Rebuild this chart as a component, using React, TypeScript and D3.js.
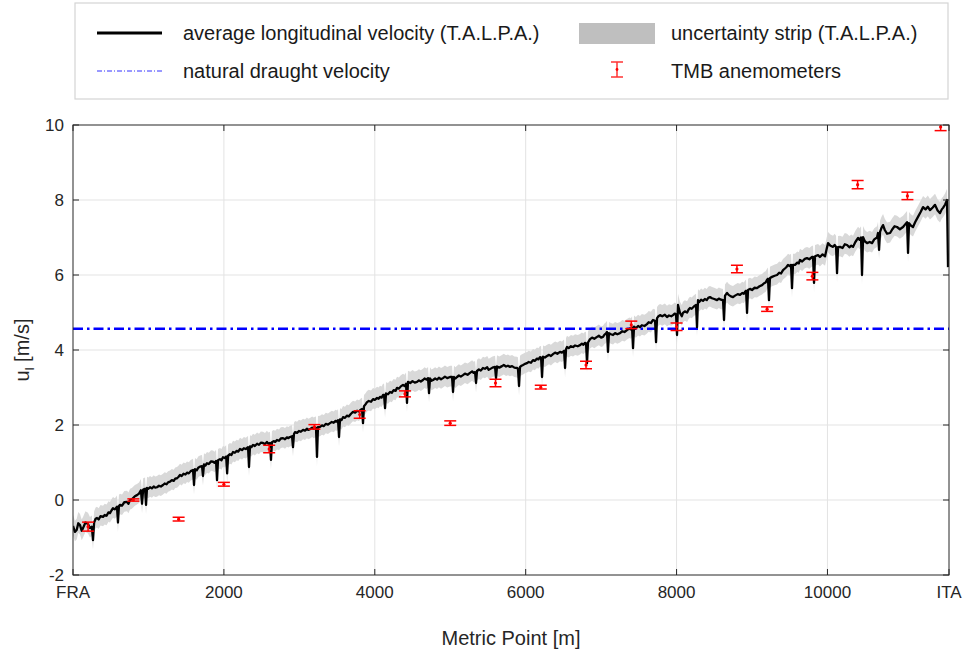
import * as d3 from 'd3';

// average longitudinal velocity (T.A.L.P.A.), [metric point m, u_l m/s]
const talpaVelocity: [number, number][] = [
  [0, -0.69], [25, -0.85], [49, -0.8], [70, -0.62], [93, -0.67], [115, -0.82], [133, -0.75], [165, -0.6],
  [199, -0.64], [225, -0.75], [250, -0.71], [265, -1.07], [280, -0.6], [300, -0.5], [318, -0.48], [340, -0.52],
  [365, -0.43], [398, -0.45], [420, -0.4], [445, -0.42], [470, -0.33], [490, -0.35], [510, -0.28], [530, -0.22],
  [555, -0.25], [583, -0.18], [596, -0.6], [609, -0.16], [623, -0.13], [650, -0.15], [680, -0.06], [716, -0.05],
  [735, -0.1], [756, 0], [780, 0.02], [800, 0.06], [820, 0.1], [848, 0.13], [875, 0.17], [900, 0.26],
  [915, -0.1], [930, 0.28], [955, 0.3], [968, -0.13], [981, 0.32], [1000, 0.3], [1021, 0.34], [1045, 0.31],
  [1070, 0.36], [1090, 0.33], [1113, 0.34], [1140, 0.38], [1165, 0.36], [1193, 0.4], [1215, 0.44], [1240, 0.42],
  [1260, 0.47], [1286, 0.49], [1310, 0.53], [1335, 0.51], [1355, 0.57], [1379, 0.58], [1400, 0.62], [1418, 0.67],
  [1440, 0.64], [1465, 0.7], [1490, 0.68], [1511, 0.73], [1535, 0.71], [1560, 0.77], [1591, 0.8], [1604, 0.4],
  [1617, 0.82], [1640, 0.79], [1660, 0.86], [1683, 0.89], [1710, 0.9], [1723, 0.64], [1736, 0.95], [1755, 0.92],
  [1776, 0.98], [1800, 0.96], [1830, 1.03], [1856, 1.02], [1876, 0.99], [1896, 1.04], [1909, 0.53], [1922, 1.06],
  [1948, 1.09], [1968, 1.06], [1988, 1.14], [2010, 1.12], [2030, 1.16], [2043, 0.71], [2056, 1.18], [2080, 1.22],
  [2100, 1.2], [2121, 1.28], [2145, 1.26], [2170, 1.31], [2190, 1.29], [2214, 1.36], [2240, 1.33], [2265, 1.38],
  [2290, 1.36], [2320, 1.41], [2333, 0.88], [2346, 1.43], [2366, 1.41], [2386, 1.47], [2410, 1.44], [2440, 1.5],
  [2465, 1.47], [2490, 1.53], [2518, 1.52], [2545, 1.49], [2570, 1.55], [2590, 1.5], [2611, 1.52], [2624, 1.07],
  [2637, 1.54], [2660, 1.57], [2680, 1.55], [2704, 1.6], [2730, 1.58], [2755, 1.64], [2784, 1.65], [2810, 1.62],
  [2835, 1.67], [2855, 1.65], [2876, 1.68], [2903, 1.7], [2916, 1.41], [2929, 1.76], [2943, 1.81], [2970, 1.79],
  [2995, 1.84], [3020, 1.82], [3049, 1.87], [3075, 1.85], [3100, 1.9], [3120, 1.87], [3141, 1.89], [3170, 1.93],
  [3190, 1.9], [3208, 1.92], [3221, 1.93], [3234, 1.15], [3247, 1.94], [3274, 1.95], [3300, 1.99], [3325, 1.97],
  [3350, 2.03], [3380, 2.01], [3406, 2.05], [3430, 2.08], [3455, 2.06], [3480, 2.11], [3500, 2.09], [3513, 2.13],
  [3526, 1.68], [3539, 2.15], [3560, 2.13], [3579, 2.21], [3605, 2.19], [3630, 2.25], [3655, 2.23], [3685, 2.3],
  [3711, 2.35], [3740, 2.33], [3765, 2.38], [3790, 2.36], [3815, 2.41], [3831, 2.43], [3844, 2.05], [3857, 2.5],
  [3877, 2.55], [3897, 2.61], [3920, 2.64], [3950, 2.62], [3977, 2.69], [4000, 2.67], [4030, 2.72], [4050, 2.7],
  [4069, 2.75], [4090, 2.73], [4109, 2.8], [4123, 2.8], [4136, 2.45], [4149, 2.84], [4175, 2.82], [4202, 2.88],
  [4225, 2.86], [4250, 2.93], [4275, 2.91], [4295, 2.99], [4320, 2.97], [4345, 3.03], [4374, 3.07], [4395, 3.04],
  [4414, 3.1], [4427, 2.59], [4440, 3.15], [4470, 3.12], [4500, 3.17], [4530, 3.13], [4560, 3.15], [4585, 3.19],
  [4610, 3.16], [4639, 3.2], [4660, 3.24], [4685, 3.21], [4706, 3.25], [4719, 2.85], [4732, 3.24], [4752, 3.18],
  [4772, 3.2], [4800, 3.24], [4825, 3.21], [4850, 3.26], [4878, 3.22], [4904, 3.25], [4930, 3.29], [4960, 3.25],
  [4997, 3.28], [5024, 3.28], [5037, 2.88], [5050, 3.28], [5070, 3.24], [5090, 3.28], [5115, 3.32], [5140, 3.29],
  [5169, 3.33], [5195, 3.37], [5230, 3.34], [5262, 3.39], [5290, 3.43], [5310, 3.39], [5329, 3.41], [5342, 3.12],
  [5355, 3.44], [5380, 3.48], [5405, 3.45], [5434, 3.52], [5460, 3.5], [5490, 3.54], [5510, 3.47], [5527, 3.49],
  [5560, 3.53], [5594, 3.55], [5607, 3.25], [5620, 3.56], [5650, 3.53], [5686, 3.57], [5710, 3.6], [5740, 3.56],
  [5765, 3.58], [5792, 3.55], [5820, 3.57], [5850, 3.53], [5885, 3.52], [5898, 3.5], [5912, 3.04], [5925, 3.55],
  [5945, 3.58], [5965, 3.6], [5990, 3.63], [6018, 3.65], [6040, 3.68], [6070, 3.66], [6097, 3.73], [6120, 3.71],
  [6150, 3.77], [6170, 3.75], [6190, 3.81], [6204, 3.8], [6217, 3.28], [6230, 3.82], [6255, 3.8], [6283, 3.84],
  [6310, 3.87], [6335, 3.84], [6362, 3.89], [6390, 3.93], [6420, 3.9], [6455, 3.95], [6480, 3.93], [6509, 3.98],
  [6522, 3.52], [6535, 4.02], [6548, 4.08], [6570, 4.05], [6600, 4.1], [6628, 4.08], [6655, 4.12], [6690, 4.1],
  [6720, 4.13], [6745, 4.17], [6765, 4.14], [6787, 4.19], [6800, 4.18], [6813, 3.65], [6826, 4.2], [6853, 4.29],
  [6880, 4.33], [6910, 4.3], [6946, 4.35], [6970, 4.38], [7000, 4.33], [7025, 4.35], [7045, 4.41], [7065, 4.44],
  [7078, 4.48], [7091, 3.95], [7104, 4.45], [7130, 4.42], [7158, 4.4], [7185, 4.45], [7215, 4.42], [7250, 4.45],
  [7280, 4.5], [7310, 4.48], [7343, 4.53], [7375, 4.57], [7395, 4.55], [7410, 4.6], [7423, 4.05], [7436, 4.62],
  [7460, 4.58], [7490, 4.64], [7515, 4.61], [7540, 4.66], [7575, 4.64], [7608, 4.69], [7630, 4.74], [7660, 4.72],
  [7688, 4.8], [7715, 4.78], [7728, 4.21], [7741, 4.85], [7760, 4.9], [7781, 4.93], [7810, 4.9], [7845, 4.94],
  [7873, 4.88], [7900, 4.92], [7930, 4.9], [7953, 4.93], [7975, 4.97], [7993, 4.95], [8006, 4.4], [8019, 5.2],
  [8045, 4.99], [8070, 4.9], [8085, 4.99], [8110, 5.03], [8140, 5.0], [8160, 5.08], [8178, 5.12], [8200, 5.1],
  [8230, 5.16], [8258, 5.2], [8271, 4.61], [8284, 5.33], [8300, 5.28], [8325, 5.34], [8350, 5.31], [8375, 5.36],
  [8400, 5.33], [8420, 5.39], [8443, 5.41], [8470, 5.38], [8500, 5.36], [8536, 5.33], [8560, 5.37], [8590, 5.34],
  [8616, 5.33], [8629, 4.8], [8642, 5.45], [8669, 5.52], [8690, 5.47], [8720, 5.43], [8748, 5.41], [8775, 5.45],
  [8810, 5.49], [8841, 5.47], [8870, 5.52], [8890, 5.5], [8907, 5.55], [8921, 5.58], [8934, 4.99], [8947, 5.6],
  [8973, 5.63], [9000, 5.6], [9035, 5.66], [9066, 5.65], [9100, 5.7], [9133, 5.73], [9160, 5.78], [9180, 5.8],
  [9199, 5.87], [9212, 5.9], [9225, 5.33], [9238, 5.92], [9265, 5.95], [9300, 5.98], [9332, 6.0], [9360, 6.06],
  [9385, 6.04], [9411, 6.13], [9440, 6.18], [9460, 6.22], [9477, 6.27], [9500, 6.24], [9517, 6.27], [9530, 5.65],
  [9543, 6.27], [9570, 6.27], [9600, 6.33], [9620, 6.31], [9636, 6.4], [9665, 6.36], [9700, 6.43], [9729, 6.45],
  [9760, 6.42], [9796, 6.48], [9809, 6.48], [9822, 5.79], [9835, 6.5], [9875, 6.53], [9900, 6.48], [9935, 6.55],
  [9968, 6.5], [9990, 6.7], [10008, 6.85], [10040, 6.78], [10074, 6.75], [10095, 6.8], [10114, 6.75], [10127, 6.05],
  [10140, 6.74], [10167, 6.75], [10200, 6.72], [10230, 6.82], [10260, 6.8], [10290, 6.74], [10315, 6.78], [10339, 6.75],
  [10370, 6.88], [10406, 6.99], [10425, 6.94], [10445, 7.0], [10458, 6.0], [10472, 7.01], [10495, 6.9], [10525, 6.85],
  [10560, 6.88], [10591, 6.85], [10620, 6.95], [10657, 7.0], [10670, 7.12], [10684, 6.67], [10697, 7.15], [10715, 7.25],
  [10737, 7.33], [10760, 7.2], [10790, 7.1], [10830, 7.12], [10860, 7.22], [10890, 7.3], [10922, 7.28], [10960, 7.22],
  [11002, 7.28], [11030, 7.35], [11055, 7.41], [11068, 6.59], [11081, 7.38], [11105, 7.32], [11134, 7.28], [11165, 7.42],
  [11200, 7.55], [11235, 7.68], [11267, 7.81], [11300, 7.75], [11330, 7.82], [11359, 7.73], [11395, 7.8], [11426, 7.87],
  [11460, 7.72], [11492, 7.65], [11515, 7.75], [11532, 7.79], [11560, 7.88], [11585, 8.0], [11598, 6.21],
];

// uncertainty of T.A.L.P.A. estimate (m/s), above / below
const stripUp = 0.3;
const stripDown = 0.25;

const naturalDraught = 4.57;

// TMB anemometers
const anemoPos = [200, 800, 1400, 2000, 2600, 3200, 3800, 4400, 5000, 5600, 6200, 6800, 7400, 8000, 8800, 9200, 9800, 10400, 11060, 11500];
const anemoVal = [-0.71, 0.0, -0.51, 0.42, 1.36, 1.95, 2.28, 2.83, 2.05, 3.12, 3.01, 3.6, 4.67, 4.62, 6.16, 5.09, 5.97, 8.41, 8.11, 9.95];
const anemoErr = [0.12, 0.03, 0.05, 0.05, 0.1, 0.06, 0.1, 0.08, 0.06, 0.1, 0.05, 0.1, 0.1, 0.1, 0.1, 0.06, 0.1, 0.11, 0.1, 0.1];

const tunnelLength = 11611;
const xTicks = [0, 2000, 4000, 6000, 8000, 10000, tunnelLength];
const xTickLabels = ['FRA', '2000', '4000', '6000', '8000', '10000', 'ITA'];
const yTicks = [-2, 0, 2, 4, 6, 8, 10];

const FONT = '"Liberation Sans", Arial, Helvetica, sans-serif';

export default function App() {
  const W = 963;
  const H = 654;
  const x = d3.scaleLinear().domain([0, tunnelLength]).range([73, 949]);
  const y = d3.scaleLinear().domain([-2, 10]).range([575, 125]);
  const [x0, x1] = x.range();
  const [y0, y1] = y.range();

  const line = d3.line<[number, number]>().x(d => x(d[0])).y(d => y(d[1]));
  const area = d3.area<[number, number]>()
    .x(d => x(d[0]))
    .y0(d => y(d[1] - stripDown))
    .y1(d => y(d[1] + stripUp));

  const tickLen = 6;
  const axisColor = '#262626';

  return (
    <svg width={W} height={H} style={{ position: 'absolute', left: 0, top: 0, background: '#fff' }} fontFamily={FONT}>
      <defs>
        <clipPath id="plotClip">
          <rect x={x0} y={y1} width={x1 - x0} height={y0 - y1} />
        </clipPath>
      </defs>

      {/* legend */}
      <g>
        <rect x={75} y={3} width={873} height={96} fill="#fff" stroke="#d4d4d4" strokeWidth={1.2} />
        <line x1={97} x2={162} y1={33} y2={33} stroke="#000" strokeWidth={3} />
        <text x={183} y={40} fontSize={20} fill="#1a1a1a">average longitudinal velocity (T.A.L.P.A.)</text>
        <line x1={97} x2={162} y1={71} y2={71} stroke="#3333ff" strokeWidth={1} strokeDasharray="5,2,1,2" />
        <text x={183} y={78} fontSize={20} fill="#1a1a1a">natural draught velocity</text>
        <rect x={579} y={23} width={76} height={21} fill="#bfbfbf" />
        <text x={671} y={40} fontSize={20} fill="#1a1a1a">uncertainty strip (T.A.L.P.A.)</text>
        <g stroke="#ff3333" strokeWidth={1.5}>
          <line x1={617} x2={617} y1={62} y2={77} />
          <line x1={611} x2={623} y1={62} y2={62} />
          <line x1={611} x2={623} y1={77} y2={77} />
        </g>
        <circle cx={617} cy={69.5} r={1.4} fill="#ff0000" />
        <text x={671} y={78} fontSize={20} fill="#1a1a1a">TMB anemometers</text>
      </g>

      {/* grid */}
      <g stroke="#e3e3e3" strokeWidth={1}>
        {yTicks.slice(1, -1).map(t => (
          <line key={'gy' + t} x1={x0} x2={x1} y1={y(t)} y2={y(t)} />
        ))}
        {xTicks.slice(1, -1).map(t => (
          <line key={'gx' + t} x1={x(t)} x2={x(t)} y1={y0} y2={y1} />
        ))}
      </g>

      <g clipPath="url(#plotClip)">
        <path d={area(talpaVelocity) ?? ''} fill="#d9d9d9" />
        <line x1={x0} x2={x1} y1={y(naturalDraught)} y2={y(naturalDraught)}
          stroke="#0000ff" strokeWidth={2.5} strokeDasharray="10,4,2.5,4" />
        <path d={line(talpaVelocity) ?? ''} fill="none" stroke="#000" strokeWidth={2.3} strokeLinejoin="round" />
        {anemoPos.map((p, i) => {
          const cx = x(p);
          const top = y(anemoVal[i] + anemoErr[i]);
          const bot = y(anemoVal[i] - anemoErr[i]);
          return (
            <g key={'a' + i} stroke="#ff0000" strokeWidth={1.5}>
              <line x1={cx} x2={cx} y1={top} y2={bot} />
              <line x1={cx - 6} x2={cx + 6} y1={top} y2={top} />
              <line x1={cx - 6} x2={cx + 6} y1={bot} y2={bot} />
              <circle cx={cx} cy={y(anemoVal[i])} r={1.6} fill="#ff0000" stroke="none" />
            </g>
          );
        })}
      </g>

      {/* axes box and ticks */}
      <rect x={x0} y={y1} width={x1 - x0} height={y0 - y1} fill="none" stroke={axisColor} strokeWidth={1} />
      <g stroke={axisColor} strokeWidth={1}>
        {xTicks.map(t => (
          <g key={'xt' + t}>
            <line x1={x(t)} x2={x(t)} y1={y0} y2={y0 - tickLen} />
            <line x1={x(t)} x2={x(t)} y1={y1} y2={y1 + tickLen} />
          </g>
        ))}
        {yTicks.map(t => (
          <g key={'yt' + t}>
            <line x1={x0} x2={x0 + tickLen} y1={y(t)} y2={y(t)} />
            <line x1={x1} x2={x1 - tickLen} y1={y(t)} y2={y(t)} />
          </g>
        ))}
      </g>

      {/* tick labels */}
      <g fontSize={17} fill={axisColor}>
        {xTicks.map((t, i) => (
          <text key={'xl' + t} x={x(t)} y={y0 + 23} textAnchor="middle">{xTickLabels[i]}</text>
        ))}
        {yTicks.map(t => (
          <text key={'yl' + t} x={x0 - 9} y={y(t) + 6} textAnchor="end">{t}</text>
        ))}
      </g>

      {/* axis labels */}
      <text x={(x0 + x1) / 2} y={645} textAnchor="middle" fontSize={20} fill={axisColor}>Metric Point [m]</text>
      <text transform={`translate(29, ${(y0 + y1) / 2}) rotate(-90)`} textAnchor="middle" fontSize={20} fill={axisColor}>
        u<tspan fontSize={13} dy={5}>l</tspan><tspan dy={-5}> [m/s]</tspan>
      </text>
    </svg>
  );
}
